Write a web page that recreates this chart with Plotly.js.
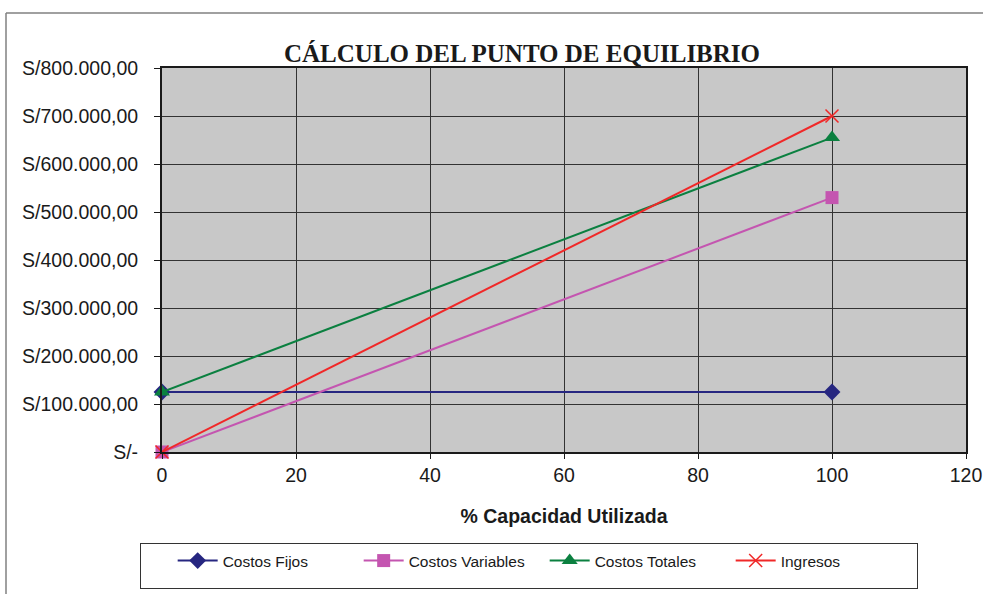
<!DOCTYPE html>
<html><head><meta charset="utf-8">
<script src="https://cdn.plot.ly/plotly-3.0.1.min.js"></script>
<style>html,body{margin:0;padding:0;background:#fff}#chart{width:983px;height:594px}</style>
</head><body><div id="chart"></div>
<script>
const capacidad = [0, 100];
const costosFijos = [125000, 125000];
const costosVariables = [0, 530000];
const costosTotales = [125000, 655000];
const ingresos = [0, 700000];
const yTickVals = [0, 100000, 200000, 300000, 400000, 500000, 600000, 700000, 800000];
const yTickText = ['S/-', 'S/100.000,00', 'S/200.000,00', 'S/300.000,00', 'S/400.000,00', 'S/500.000,00', 'S/600.000,00', 'S/700.000,00', 'S/800.000,00'];

const traces = [
  {x: capacidad, y: costosFijos, name: 'Costos Fijos', mode: 'lines+markers', cliponaxis: false,
   line: {color: '#262680', width: 2}, marker: {symbol: 'diamond', size: 13, color: '#262680'}},
  {x: capacidad, y: costosVariables, name: 'Costos Variables', mode: 'lines+markers', cliponaxis: false,
   line: {color: '#c455b0', width: 2}, marker: {symbol: 'square', size: 13, color: '#c455b0'}},
  {x: capacidad, y: costosTotales, name: 'Costos Totales', mode: 'lines+markers', cliponaxis: false,
   line: {color: '#0b8040', width: 2}, marker: {symbol: 'triangle-up', size: 14, color: '#0b8040'}},
  {x: capacidad, y: ingresos, name: 'Ingresos', mode: 'lines+markers', cliponaxis: false,
   line: {color: '#f02828', width: 2}, marker: {symbol: 'x-thin', size: 13, line: {color: '#f02828', width: 1.5}, color: '#f02828'}}
];

const layout = {
  width: 983, height: 594,
  margin: {l: 162, r: 17, t: 68, b: 142, autoexpand: false},
  paper_bgcolor: '#ffffff', plot_bgcolor: '#c8c8c8',
  showlegend: true,
  title: {text: '<b>CÁLCULO DEL PUNTO DE EQUILIBRIO</b>', font: {family: 'Liberation Serif, Times New Roman, serif', size: 25, color: '#1a1a1a'},
    x: 522/983, xref: 'container', xanchor: 'center', y: 1 - 53/594, yref: 'container', yanchor: 'middle'},
  xaxis: {range: [0, 120], tickvals: [0, 20, 40, 60, 80, 100, 120], showgrid: true, gridcolor: '#333333', gridwidth: 1,
    zeroline: false, showline: true, linecolor: '#1a1a1a', linewidth: 2, mirror: true,
    ticks: 'outside', ticklen: 5, tickcolor: '#1a1a1a',
    tickfont: {family: 'Liberation Sans, Arial, sans-serif', size: 19.5, color: '#1a1a1a'},
    title: {text: '<b>% Capacidad Utilizada</b>', font: {family: 'Liberation Sans, Arial, sans-serif', size: 19.5, color: '#1a1a1a'}, standoff: 24}},
  yaxis: {range: [0, 800000], tickvals: yTickVals, ticktext: yTickText, showgrid: true, gridcolor: '#333333', gridwidth: 1,
    zeroline: false, showline: true, linecolor: '#1a1a1a', linewidth: 2, mirror: true,
    ticks: 'outside', ticklen: 6, tickcolor: '#1a1a1a', ticklabelstandoff: 12,
    tickfont: {family: 'Liberation Sans, Arial, sans-serif', size: 19.5, color: '#1a1a1a'}},
  legend: {orientation: 'h', x: (140-162)/804, xanchor: 'left', y: (452-543)/384, yanchor: 'top',
    bordercolor: '#333333', borderwidth: 1, bgcolor: '#ffffff',
    font: {family: 'Liberation Sans, Arial, sans-serif', size: 15.5, color: '#1a1a1a'},
    title: {text: '&nbsp;&nbsp;&nbsp;', side: 'left', font: {size: 26}},
    itemwidth: 40, entrywidth: 131, entrywidthmode: 'pixels', tracegroupgap: 0},
  shapes: [
    {type: 'line', xref: 'paper', yref: 'paper', x0: (6-162)/804, x1: (990-162)/804, y0: 1 + (68-13)/384, y1: 1 + (68-13)/384, line: {color: '#808080', width: 1.5}},
    {type: 'line', xref: 'paper', yref: 'paper', x0: (6-162)/804, x1: (6-162)/804, y0: 1 + (68-13)/384, y1: (452-600)/384, line: {color: '#808080', width: 1.5}}
  ]
};
Plotly.newPlot('chart', traces, layout, {displayModeBar: false});
</script></body></html>
